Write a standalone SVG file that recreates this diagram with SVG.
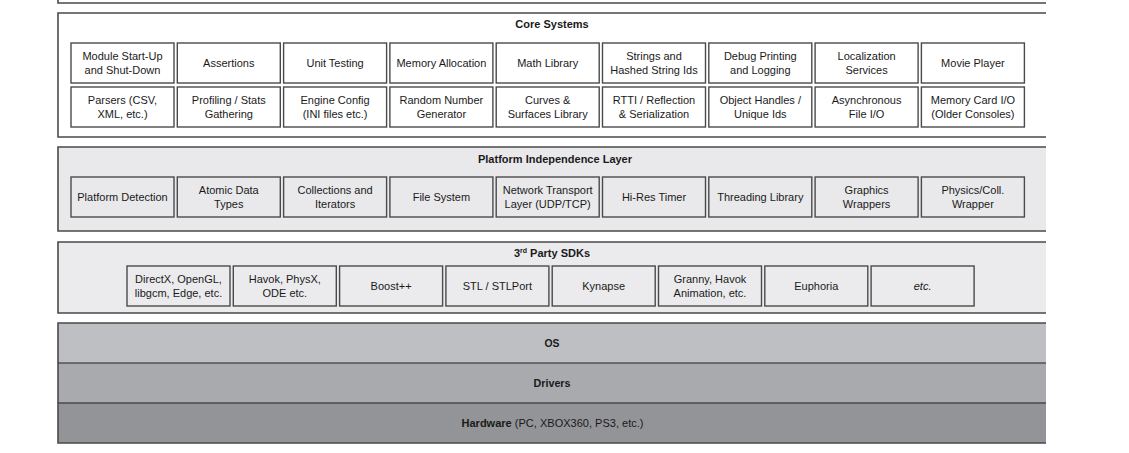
<svg xmlns="http://www.w3.org/2000/svg" width="1129" height="453" viewBox="0 0 1129 453">
<style>
.pl{stroke:#4a4a4a;stroke-width:1.6;fill:none}
.bx{fill:none;stroke:#4a4a4a;stroke-width:1.4}
.t{font-family:"Liberation Sans",Arial,sans-serif;font-size:11px;fill:#1a1a1a;text-anchor:middle;dominant-baseline:central}
.h{font-family:"Liberation Sans",Arial,sans-serif;font-size:11px;font-weight:bold;fill:#1a1a1a;text-anchor:middle}
.n{font-family:"Liberation Sans Narrow","Liberation Sans",Arial,sans-serif;font-size:11px;fill:#1a1a1a;text-anchor:middle}
</style>
<rect width="1129" height="453" fill="#fff"/>
<g id="top-panel"><path class="pl" d="M58,0 V3 H1046"/></g>
<g id="core-systems">
<rect x="58" y="13" width="988" height="124" fill="#fff"/>
<path class="pl" d="M1046,13 H58 V137 H1046"/>
<text class="h" x="552" y="28">Core Systems</text>
</g>
<g id="core-r1">
<g id="n-module"><rect class="bx" x="71" y="43" width="103" height="40"/><text class="t" x="122.5" y="56">Module Start-Up</text><text class="t" x="122.5" y="70">and Shut-Down</text></g>
<g id="n-assert"><rect class="bx" x="177.3" y="43" width="103" height="40"/><text class="t" x="228.8" y="63">Assertions</text></g>
<g id="n-unit"><rect class="bx" x="283.6" y="43" width="103" height="40"/><text class="t" x="335.1" y="63">Unit Testing</text></g>
<g id="n-mem"><rect class="bx" x="389.9" y="43" width="103" height="40"/><text class="t" x="441.4" y="63">Memory Allocation</text></g>
<g id="n-math"><rect class="bx" x="496.2" y="43" width="103" height="40"/><text class="t" x="547.7" y="63">Math Library</text></g>
<g id="n-strings"><rect class="bx" x="602.5" y="43" width="103" height="40"/><text class="t" x="654" y="56">Strings and</text><text class="t" x="654" y="70">Hashed String Ids</text></g>
<g id="n-debug"><rect class="bx" x="708.8" y="43" width="103" height="40"/><text class="t" x="760.3" y="56">Debug Printing</text><text class="t" x="760.3" y="70">and Logging</text></g>
<g id="n-local"><rect class="bx" x="815.1" y="43" width="103" height="40"/><text class="t" x="866.6" y="56">Localization</text><text class="t" x="866.6" y="70">Services</text></g>
<g id="n-movie"><rect class="bx" x="921.4" y="43" width="103" height="40"/><text class="t" x="972.9" y="63">Movie Player</text></g>
</g>
<g id="core-r2">
<g id="n-parsers"><rect class="bx" x="71" y="87" width="103" height="40"/><text class="t" x="122.5" y="100">Parsers (CSV,</text><text class="t" x="122.5" y="114">XML, etc.)</text></g>
<g id="n-prof"><rect class="bx" x="177.3" y="87" width="103" height="40"/><text class="t" x="228.8" y="100">Profiling / Stats</text><text class="t" x="228.8" y="114">Gathering</text></g>
<g id="n-config"><rect class="bx" x="283.6" y="87" width="103" height="40"/><text class="t" x="335.1" y="100">Engine Config</text><text class="t" x="335.1" y="114">(INI files etc.)</text></g>
<g id="n-rand"><rect class="bx" x="389.9" y="87" width="103" height="40"/><text class="t" x="441.4" y="100">Random Number</text><text class="t" x="441.4" y="114">Generator</text></g>
<g id="n-curves"><rect class="bx" x="496.2" y="87" width="103" height="40"/><text class="t" x="547.7" y="100">Curves &amp;</text><text class="t" x="547.7" y="114">Surfaces Library</text></g>
<g id="n-rtti"><rect class="bx" x="602.5" y="87" width="103" height="40"/><text class="t" x="654" y="100">RTTI / Reflection</text><text class="t" x="654" y="114">&amp; Serialization</text></g>
<g id="n-handles"><rect class="bx" x="708.8" y="87" width="103" height="40"/><text class="t" x="760.3" y="100">Object Handles /</text><text class="t" x="760.3" y="114">Unique Ids</text></g>
<g id="n-async"><rect class="bx" x="815.1" y="87" width="103" height="40"/><text class="t" x="866.6" y="100">Asynchronous</text><text class="t" x="866.6" y="114">File I/O</text></g>
<g id="n-memcard"><rect class="bx" x="921.4" y="87" width="103" height="40"/><text class="t" x="972.9" y="100">Memory Card I/O</text><text class="t" x="972.9" y="114">(Older Consoles)</text></g>
</g>
<g id="platform-layer">
<rect x="58" y="147" width="988" height="84" fill="#e9e9eb"/>
<path class="pl" d="M1046,147 H58 V231 H1046"/>
<text class="h" x="555" y="163">Platform Independence Layer</text>
<g id="n-pdetect"><rect class="bx" x="71" y="177" width="103" height="40"/><text class="t" x="122.5" y="197">Platform Detection</text></g>
<g id="n-atomic"><rect class="bx" x="177.3" y="177" width="103" height="40"/><text class="t" x="228.8" y="190">Atomic Data</text><text class="t" x="228.8" y="204">Types</text></g>
<g id="n-coll"><rect class="bx" x="283.6" y="177" width="103" height="40"/><text class="t" x="335.1" y="190">Collections and</text><text class="t" x="335.1" y="204">Iterators</text></g>
<g id="n-fs"><rect class="bx" x="389.9" y="177" width="103" height="40"/><text class="t" x="441.4" y="197">File System</text></g>
<g id="n-net"><rect class="bx" x="496.2" y="177" width="103" height="40"/><text class="t" x="547.7" y="190">Network Transport</text><text class="t" x="547.7" y="204">Layer (UDP/TCP)</text></g>
<g id="n-timer"><rect class="bx" x="602.5" y="177" width="103" height="40"/><text class="t" x="654" y="197">Hi-Res Timer</text></g>
<g id="n-thread"><rect class="bx" x="708.8" y="177" width="103" height="40"/><text class="t" x="760.3" y="197">Threading Library</text></g>
<g id="n-gfx"><rect class="bx" x="815.1" y="177" width="103" height="40"/><text class="t" x="866.6" y="190">Graphics</text><text class="t" x="866.6" y="204">Wrappers</text></g>
<g id="n-phys"><rect class="bx" x="921.4" y="177" width="103" height="40"/><text class="t" x="972.9" y="190">Physics/Coll.</text><text class="t" x="972.9" y="204">Wrapper</text></g>
</g>
<g id="sdk-layer">
<rect x="58" y="242" width="988" height="71" fill="#ebebed"/>
<path class="pl" d="M1046,242 H58 V313 H1046"/>
<text class="h" x="552" y="257">3<tspan font-size="7" dy="-4">rd</tspan><tspan dy="4"> Party SDKs</tspan></text>
<g id="n-directx"><rect class="bx" x="127" y="266" width="103" height="40"/><text class="t" x="178.5" y="279">DirectX, OpenGL,</text><text class="t" x="178.5" y="293">libgcm, Edge, etc.</text></g>
<g id="n-havok"><rect class="bx" x="233.3" y="266" width="103" height="40"/><text class="t" x="284.8" y="279">Havok, PhysX,</text><text class="t" x="284.8" y="293">ODE etc.</text></g>
<g id="n-boost"><rect class="bx" x="339.6" y="266" width="103" height="40"/><text class="t" x="391.1" y="286">Boost++</text></g>
<g id="n-stl"><rect class="bx" x="445.9" y="266" width="103" height="40"/><text class="t" x="497.4" y="286">STL / STLPort</text></g>
<g id="n-kynapse"><rect class="bx" x="552.2" y="266" width="103" height="40"/><text class="t" x="603.7" y="286">Kynapse</text></g>
<g id="n-granny"><rect class="bx" x="658.5" y="266" width="103" height="40"/><text class="t" x="710" y="279">Granny, Havok</text><text class="t" x="710" y="293">Animation, etc.</text></g>
<g id="n-euphoria"><rect class="bx" x="764.8" y="266" width="103" height="40"/><text class="t" x="816.3" y="286">Euphoria</text></g>
<g id="n-etc"><rect class="bx" x="871.1" y="266" width="103" height="40"/><text class="t" x="922.6" y="286" font-style="italic">etc.</text></g>
</g>
<g id="os-layer">
<rect x="58" y="323" width="988" height="40" fill="#bebfc2"/>
<path class="pl" d="M1046,323 H58 V363"/>
<text class="n" x="552" y="347" font-weight="bold" textLength="15" lengthAdjust="spacingAndGlyphs">OS</text>
</g>
<g id="drivers-layer">
<rect x="58" y="363" width="988" height="40" fill="#a9aaad"/>
<path d="M58,363 H1046" stroke="#222" stroke-width="1.2"/>
<path class="pl" d="M58,363 V403"/>
<text class="n" x="552" y="387" font-weight="bold" textLength="37" lengthAdjust="spacingAndGlyphs">Drivers</text>
</g>
<g id="hardware-layer">
<rect x="58" y="403" width="988" height="40" fill="#939497"/>
<path class="pl" d="M1046,403 H58 V443 H1046"/>
<text class="n" x="552.5" y="427" textLength="182" lengthAdjust="spacingAndGlyphs"><tspan font-weight="bold">Hardware</tspan> (PC, XBOX360, PS3, etc.)</text>
</g>
<g id="connectors"></g>
</svg>
